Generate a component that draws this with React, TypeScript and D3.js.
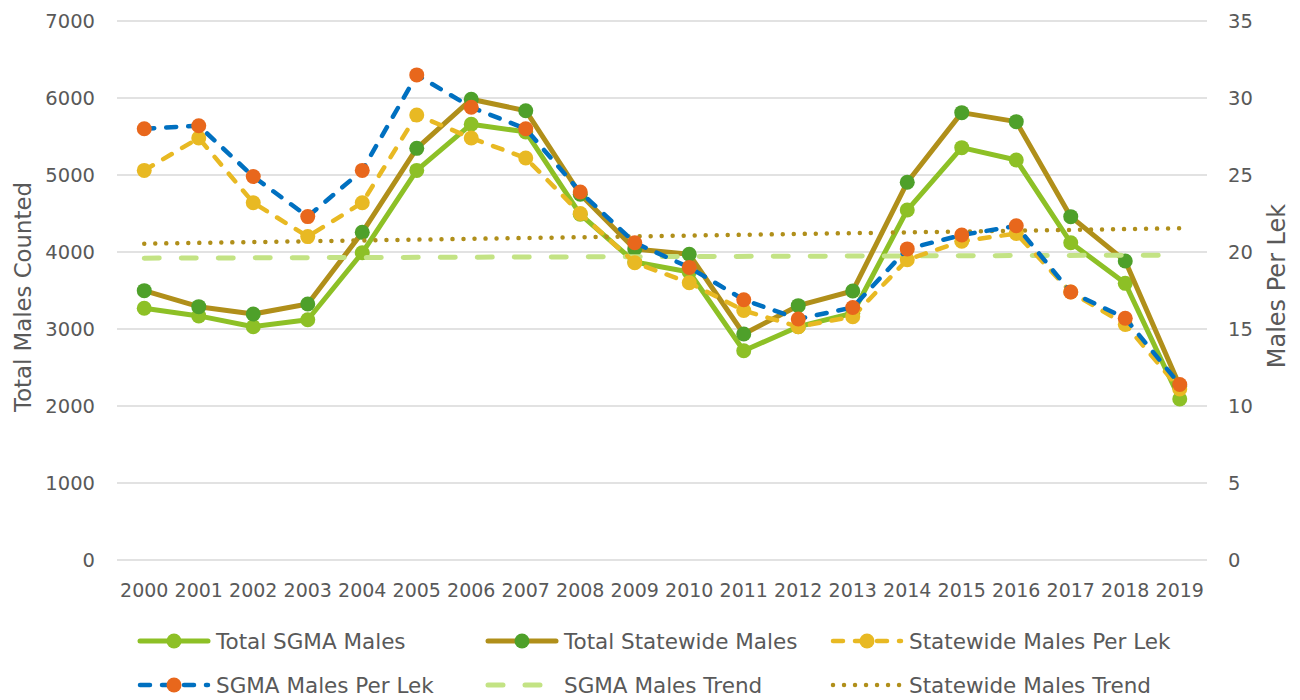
import * as d3 from 'd3';

const years = [
  '2000', '2001', '2002', '2003', '2004', '2005', '2006', '2007', '2008', '2009',
  '2010', '2011', '2012', '2013', '2014', '2015', '2016', '2017', '2018', '2019',
];

// left axis: total males counted
const totalSgma = [
  3270, 3170, 3030, 3120, 3990, 5060, 5660, 5560, 4490, 3870,
  3740, 2718, 3030, 3205, 4545, 5355, 5195, 4121, 3593, 2091,
];
const totalStatewide = [
  3498, 3290, 3195, 3325, 4255, 5346, 5983, 5835, 4750, 4040,
  3970, 2935, 3303, 3494, 4905, 5810, 5693, 4459, 3883, 2260,
];

// right axis: males per lek
const statewidePerLek = [
  25.3, 27.4, 23.2, 21.0, 23.2, 28.9, 27.4, 26.1, 22.5, 19.3,
  18.0, 16.2, 15.15, 15.8, 19.5, 20.7, 21.2, 17.4, 15.3, 11.1,
];
const sgmaPerLek = [
  28.0, 28.2, 24.9, 22.3, 25.3, 31.5, 29.4, 28.0, 23.9, 20.6,
  19.0, 16.9, 15.65, 16.4, 20.2, 21.1, 21.7, 17.4, 15.7, 11.4,
];

// linear trend lines (start / end values, left axis)
const trendYears = ['2000', '2019'];
const sgmaTrend = [3920, 3960];
const statewideTrend = [4108, 4308];

const leftTicks = [0, 1000, 2000, 3000, 4000, 5000, 6000, 7000];
const rightTicks = [0, 5, 10, 15, 20, 25, 30, 35];

const W = 1300;
const H = 700;
const PLOT = { left: 117, right: 1207, top: 21, bottom: 560 };
const FONT = '"DejaVu Sans", sans-serif';
const TEXT = '#595959';

const C = {
  lightGreen: '#8DC026',
  olive: '#B08F1A',
  darkGreen: '#4EA02A',
  yellow: '#E8B923',
  blue: '#0070C0',
  orange: '#E8671C',
  trendGreen: '#C3E384',
};

const DASH = '10 12';

export default function App() {
  const x = d3.scalePoint<string>().domain(years).range([PLOT.left, PLOT.right]).padding(0.5);
  const yL = d3.scaleLinear().domain([0, 7000]).range([PLOT.bottom, PLOT.top]);
  const yR = d3.scaleLinear().domain([0, 35]).range([PLOT.bottom, PLOT.top]);

  const lineL = d3.line<number>().x((_, i) => x(years[i])!).y((d) => yL(d));
  const lineR = d3.line<number>().x((_, i) => x(years[i])!).y((d) => yR(d));
  const trendLine = d3.line<number>().x((_, i) => x(trendYears[i])!).y((d) => yL(d));

  const markers = (vals: number[], y: (v: number) => number, fill: string) =>
    vals.map((v, i) => <circle key={i} cx={x(years[i])} cy={y(v)} r={7.5} fill={fill} />);

  // legend entries
  const legendCols = [138, 486, 831];
  const legendRows = [641, 685];
  const legend = [
    { label: 'Total SGMA Males', stroke: C.lightGreen, dash: undefined, width: 5, marker: C.lightGreen },
    { label: 'Total Statewide Males', stroke: C.olive, dash: undefined, width: 5, marker: C.darkGreen },
    { label: 'Statewide Males Per Lek', stroke: C.yellow, dash: DASH, width: 4.5, marker: C.yellow },
    { label: 'SGMA Males Per Lek', stroke: C.blue, dash: DASH, width: 4.5, marker: C.orange },
    { label: 'SGMA Males Trend', stroke: C.trendGreen, dash: '15 22', width: 5, marker: null },
    { label: 'Statewide Males Trend', stroke: C.olive, dash: '0.01 11', width: 4.5, marker: null },
  ];

  return (
    <svg
      width={W}
      height={H}
      style={{ position: 'absolute', left: 0, top: 0, background: '#fff' }}
      fontFamily={FONT}
    >
      {/* gridlines */}
      {leftTicks.map((t) => (
        <line key={t} x1={PLOT.left} x2={PLOT.right} y1={yL(t)} y2={yL(t)} stroke="#D9D9D9" strokeWidth={1.5} />
      ))}

      {/* left ticks */}
      {leftTicks.map((t) => (
        <text key={t} x={95} y={yL(t)} dy="0.36em" textAnchor="end" fontSize={19.5} fill={TEXT}>
          {t}
        </text>
      ))}
      {/* right ticks */}
      {rightTicks.map((t) => (
        <text key={t} x={1228} y={yR(t)} dy="0.36em" textAnchor="start" fontSize={19.5} fill={TEXT}>
          {t}
        </text>
      ))}
      {/* year labels */}
      {years.map((yr) => (
        <text key={yr} x={x(yr)} y={597} textAnchor="middle" fontSize={19} fill={TEXT}>
          {yr}
        </text>
      ))}

      {/* axis titles */}
      <text transform="translate(31,297) rotate(-90)" textAnchor="middle" fontSize={22.8} fill={TEXT}>
        Total Males Counted
      </text>
      <text transform="translate(1285,286) rotate(-90)" textAnchor="middle" fontSize={24} fill={TEXT}>
        Males Per Lek
      </text>

      {/* primary series */}
      <path d={lineL(totalSgma)!} fill="none" stroke={C.lightGreen} strokeWidth={5} strokeLinejoin="round" />
      {markers(totalSgma, yL, C.lightGreen)}
      <path d={lineL(totalStatewide)!} fill="none" stroke={C.olive} strokeWidth={5} strokeLinejoin="round" />
      {markers(totalStatewide, yL, C.darkGreen)}

      {/* trends */}
      <path d={trendLine(sgmaTrend)!} fill="none" stroke={C.trendGreen} strokeWidth={5} strokeDasharray="15 22" strokeLinecap="round" />
      <path d={trendLine(statewideTrend)!} fill="none" stroke={C.olive} strokeWidth={4.5} strokeDasharray="0.01 11" strokeLinecap="round" />

      {/* secondary series */}
      <path d={lineR(statewidePerLek)!} fill="none" stroke={C.yellow} strokeWidth={4.5} strokeDasharray={DASH} strokeLinecap="round" />
      {markers(statewidePerLek, yR, C.yellow)}
      <path d={lineR(sgmaPerLek)!} fill="none" stroke={C.blue} strokeWidth={4.5} strokeDasharray={DASH} strokeLinecap="round" />
      {markers(sgmaPerLek, yR, C.orange)}

      {/* legend */}
      {legend.map((d, i) => {
        const lx = legendCols[i % 3];
        const ly = legendRows[Math.floor(i / 3)];
        return (
          <g key={d.label}>
            <line
              x1={lx + 2}
              x2={lx + 70}
              y1={ly}
              y2={ly}
              stroke={d.stroke}
              strokeWidth={d.width}
              strokeDasharray={d.dash}
              strokeLinecap="round"
            />
            {d.marker && <circle cx={lx + 36} cy={ly} r={7.5} fill={d.marker} />}
            <text x={lx + 78} y={ly} dy="0.36em" fontSize={21.5} fill={TEXT}>
              {d.label}
            </text>
          </g>
        );
      })}
    </svg>
  );
}
